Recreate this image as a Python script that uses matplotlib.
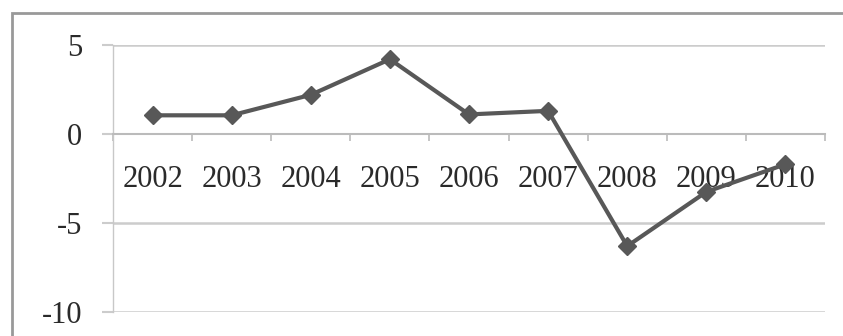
import matplotlib
matplotlib.use('Agg')
import matplotlib.pyplot as plt
from matplotlib.patches import Rectangle
import numpy as np

# data
years = ['2002', '2003', '2004', '2005', '2006', '2007', '2008', '2009', '2010']
values = [1.05, 1.05, 2.2, 4.2, 1.1, 1.3, -6.3, -3.25, -1.7]
y_ticks = [-10, -5, 0, 5]

plt.rcParams['font.family'] = ['Liberation Serif', 'DejaVu Serif']
plt.rcParams['axes.unicode_minus'] = False

fig = plt.figure(figsize=(8.43, 3.36), dpi=100)
W, H = 843, 336

# outer chart frame (cropped on right and bottom)
fig.patches.append(Rectangle((12 / W, -0.1), 1.2, 1 - 13 / H + 0.1,
                             transform=fig.transFigure, fill=False,
                             edgecolor='#999999', linewidth=2.0))

ax = fig.add_axes([113 / W, 1 - 312 / H, (825 - 113) / W, (312 - 45) / H])
x = np.arange(len(years))

ax.set_xlim(-0.5, len(years) - 0.5)
ax.set_ylim(-10, 5)

# gridlines
for yv in y_ticks:
    if yv != 0:
        ax.axhline(yv, color='#cccccc', linewidth=1.8, zorder=1)

ax.plot(x, values, color='#585858', linewidth=3.0, marker='D',
        markersize=9, zorder=3)

# spines
for s in ['top', 'right']:
    ax.spines[s].set_visible(False)
ax.spines['bottom'].set_position(('data', 0))
ax.spines['bottom'].set_color('#bbbbbb')
ax.spines['bottom'].set_linewidth(1.5)
ax.spines['left'].set_color('#c8c8c8')
ax.spines['left'].set_linewidth(1.0)

ax.set_yticks(y_ticks)
ax.set_yticklabels([str(v) for v in y_ticks])
ax.tick_params(axis='y', direction='out', length=8, width=1.5,
               color='#cccccc', labelsize=22, pad=14, labelcolor='#2a2a2a')

ax.set_xticks(x)
ax.set_xticklabels(years)
ax.set_xticks(np.arange(-0.5, len(years), 1.0), minor=True)
ax.tick_params(axis='x', which='major', length=0, labelsize=22, pad=22,
               labelcolor='#2a2a2a')
ax.tick_params(axis='x', which='minor', direction='out', length=5,
               width=1.2, color='#bbbbbb')

plt.savefig('out.png', dpi=100)
